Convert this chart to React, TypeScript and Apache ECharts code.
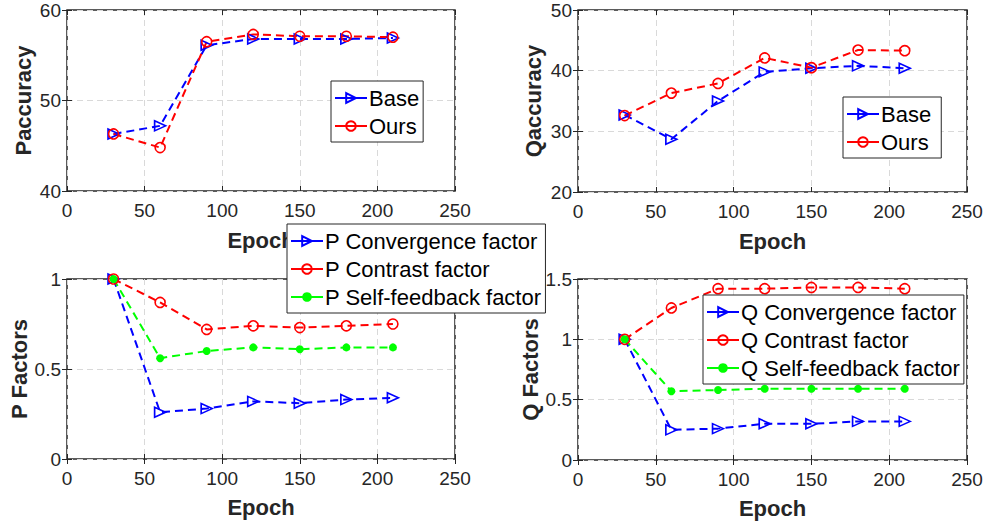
import React, { useEffect, useRef } from "react";
import * as echarts from "echarts";

const epochs = [30, 60, 90, 120, 150, 180, 210];
const pBase = [46.3, 47.2, 56.1, 56.8, 56.8, 56.8, 56.9];
const pOurs = [46.3, 44.8, 56.5, 57.3, 57.1, 57.1, 57.0];
const qBase = [32.7, 28.7, 35.0, 39.8, 40.4, 40.8, 40.4];
const qOurs = [32.6, 36.3, 37.9, 42.1, 40.5, 43.4, 43.3];
const pConv = [1.0, 0.26, 0.28, 0.32, 0.31, 0.33, 0.34];
const pContrast = [1.0, 0.87, 0.72, 0.74, 0.73, 0.74, 0.75];
const pSelf = [1.0, 0.56, 0.6, 0.62, 0.61, 0.62, 0.62];
const qConv = [1.0, 0.25, 0.26, 0.3, 0.3, 0.32, 0.32];
const qContrast = [1.0, 1.26, 1.42, 1.42, 1.43, 1.43, 1.42];
const qSelf = [1.0, 0.57, 0.58, 0.59, 0.59, 0.59, 0.59];

const xTicks = { min: 0, max: 250, interval: 50 };
const yRanges = [
  { min: 40, max: 60, interval: 10, name: "Paccuracy" },
  { min: 20, max: 50, interval: 10, name: "Qaccuracy" },
  { min: 0, max: 1, interval: 0.5, name: "P Factors" },
  { min: 0, max: 1.5, interval: 0.5, name: "Q Factors" },
];

const FONT = "'Liberation Sans', Arial, Helvetica, sans-serif";
const AX = "#262626";
const BLUE = "#0000ff";
const RED = "#ff0000";
const GREEN = "#00ff00";

export default function App() {
  const ref = useRef<HTMLDivElement>(null);
  useEffect(() => {
    if (!ref.current) return;
    const chart = echarts.init(ref.current, undefined, { renderer: "svg" });
    const grids = [
      { left: 67, top: 10, width: 388, height: 181 },
      { left: 578, top: 10, width: 389, height: 182 },
      { left: 67, top: 279, width: 388, height: 180 },
      { left: 578, top: 279, width: 389, height: 181 },
    ].map((g) => ({
      ...g,
      show: true,
      borderColor: AX,
      borderWidth: 1.5,
      backgroundColor: "#fff",
    }));

    const splitLine = {
      show: true,
      lineStyle: { color: "#d9d9d9", width: 1, type: [6, 4] as any },
    };
    const tick = { show: true, inside: true, length: 5, lineStyle: { color: AX, width: 1 } };
    const xNameGaps = [38, 38, 37, 37];
    const yNameGaps = [33, 34, 32, 33];

    const xAxis: any[] = [];
    const yAxis: any[] = [];
    for (let i = 0; i < 4; i++) {
      xAxis.push({
        type: "value",
        gridIndex: i,
        ...xTicks,
        name: "Epoch",
        nameLocation: "middle",
        nameGap: xNameGaps[i],
        nameTextStyle: { fontFamily: FONT, fontSize: 22, fontWeight: "bold", color: AX },
        axisLine: { show: false },
        axisTick: tick,
        splitLine,
        axisLabel: { fontFamily: FONT, fontSize: 19, color: AX, margin: 10 },
      });
      xAxis.push({
        type: "value",
        gridIndex: i,
        position: "top",
        ...xTicks,
        axisLine: { show: false },
        axisTick: tick,
        splitLine: { show: false },
        axisLabel: { show: false },
      });
      const yr = yRanges[i];
      yAxis.push({
        type: "value",
        gridIndex: i,
        min: yr.min,
        max: yr.max,
        interval: yr.interval,
        name: yr.name,
        nameLocation: "middle",
        nameRotate: 90,
        nameGap: yNameGaps[i],
        nameTextStyle: { fontFamily: FONT, fontSize: 22, fontWeight: "bold", color: AX },
        axisLine: { show: false },
        axisTick: tick,
        splitLine,
        axisLabel: { fontFamily: FONT, fontSize: 19, color: AX, margin: 6 },
      });
      yAxis.push({
        type: "value",
        gridIndex: i,
        position: "right",
        min: yr.min,
        max: yr.max,
        interval: yr.interval,
        axisLine: { show: false },
        axisTick: tick,
        splitLine: { show: false },
        axisLabel: { show: false },
      });
    }

    const toPts = (ys: number[]) => epochs.map((x, i) => [x, ys[i]]);
    const mk = (name: string, ys: number[], g: number, kind: "tri" | "circ" | "dot") => {
      const color = kind === "tri" ? BLUE : kind === "circ" ? RED : GREEN;
      const s: any = {
        name,
        type: "line",
        xAxisIndex: g * 2,
        yAxisIndex: g * 2,
        data: toPts(ys),
        lineStyle: { color, width: 2, type: [8, 5] },
        symbolKeepAspect: true,
      };
      if (kind === "tri") {
        s.symbol = "triangle";
        s.symbolRotate = -90;
        s.symbolSize = [10, 11];
        s.itemStyle = { color: "rgba(255,255,255,0)", borderColor: color, borderWidth: 1.6 };
      } else if (kind === "circ") {
        s.symbol = "circle";
        s.symbolSize = 10;
        s.itemStyle = { color: "rgba(255,255,255,0)", borderColor: color, borderWidth: 1.6 };
      } else {
        s.symbol = "circle";
        s.symbolSize = 8;
        s.itemStyle = { color, borderColor: color, borderWidth: 0 };
      }
      return s;
    };

    const series = [
      mk("Base", pBase, 0, "tri"),
      mk("Ours", pOurs, 0, "circ"),
      mk("Base ", qBase, 1, "tri"),
      mk("Ours ", qOurs, 1, "circ"),
      mk("P Convergence factor", pConv, 2, "tri"),
      mk("P Contrast factor", pContrast, 2, "circ"),
      mk("P Self-feedback factor", pSelf, 2, "dot"),
      mk("Q Convergence factor", qConv, 3, "tri"),
      mk("Q Contrast factor", qContrast, 3, "circ"),
      mk("Q Self-feedback factor", qSelf, 3, "dot"),
    ];

    const legendBase = {
      orient: "vertical",
      itemWidth: 32,
      itemHeight: 12,
      itemGap: 6,
      selectedMode: false,
      backgroundColor: "#fff",
      borderColor: AX,
      borderWidth: 1,
      borderRadius: 0,
      padding: [6, 4, 5, 3],
      lineStyle: { type: "solid", width: 2 },
      textStyle: { fontFamily: FONT, fontSize: 22, color: "#000", lineHeight: 22, padding: [0, 0, 0, -3] },
      z: 10,
    };

    const option: any = {
      animation: false,
      backgroundColor: "#fff",
      grid: grids,
      xAxis,
      yAxis,
      legend: [
        { ...legendBase, left: 331, top: 81, data: ["Base", "Ours"] },
        { ...legendBase, left: 843, top: 97, data: ["Base ", "Ours "] },
        {
          ...legendBase,
          left: 287,
          top: 224,
          data: ["P Convergence factor", "P Contrast factor", "P Self-feedback factor"],
        },
        {
          ...legendBase,
          left: 703,
          top: 295,
          data: ["Q Convergence factor", "Q Contrast factor", "Q Self-feedback factor"],
        },
      ],
      series,
    };
    chart.setOption(option);
    return () => chart.dispose();
  }, []);

  return (
    <div
      ref={ref}
      style={{ position: "fixed", left: 0, top: 0, width: 987, height: 526, background: "#fff" }}
    />
  );
}
